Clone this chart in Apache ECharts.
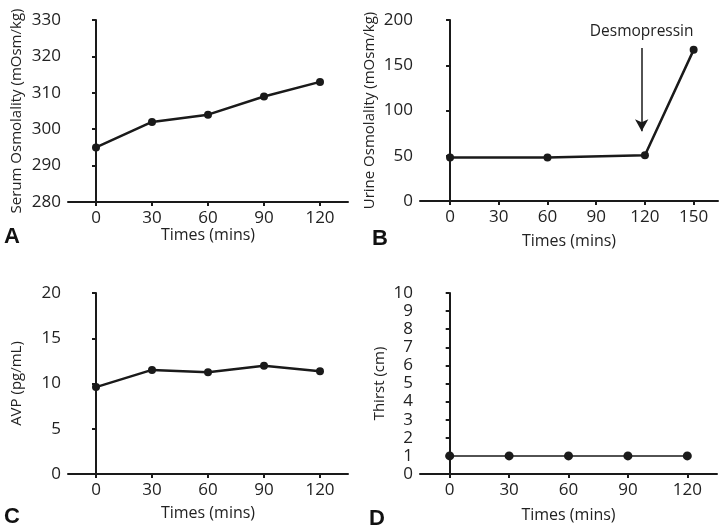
<!DOCTYPE html>
<html><head><meta charset="utf-8">
<script src="https://cdn.jsdelivr.net/npm/echarts@6/dist/echarts.min.js"></script>
<style>html,body{margin:0;padding:0;background:#fff}#c{width:721px;height:529px}</style>
</head><body><div id="c"></div>
<script>
// ---- data ----
const timesA = [0, 30, 60, 90, 120];
const serumOsm = [295, 302, 304, 309, 313];
const timesB = [0, 60, 120, 150];
const urineOsm = [48, 48, 50.5, 167];
const timesC = [0, 30, 60, 90, 120];
const avp = [9.6, 11.5, 11.25, 11.95, 11.35];
const timesD = [0, 30, 60, 90, 120];
const thirst = [1, 1, 1, 1, 1];
const xTicksA = [0, 30, 60, 90, 120];
const xTicksB = [0, 30, 60, 90, 120, 150];
const panelLetters = ['A', 'B', 'C', 'D'];
const xTitle = 'Times (mins)';
const yTitles = ['Serum Osmolality (mOsm/kg)', 'Urine Osmolality (mOsm/kg)', 'AVP (pg/mL)', 'Thirst (cm)'];
const annotation = { text: 'Desmopressin', x: 118, yFrom: 169, yTo: 77 };

// ---- style ----
const FONT = 'Open Sans';
const INK = '#1a1a1a';
const TXT = '#222';

const grids = [
  { left: 68, top: 20, width: 280, height: 182 },
  { left: 420, top: 20, width: 298, height: 181 },
  { left: 68, top: 293, width: 280, height: 181 },
  { left: 420, top: 293, width: 297, height: 181 }
];

function zip(xs, ys) { return xs.map((x, i) => [x, ys[i]]); }

function xAxis(i, min, max, ticks, nameGap) {
  return {
    type: 'value', gridIndex: i, min: min, max: max,
    name: xTitle, nameLocation: 'middle', nameGap: nameGap,
    nameTextStyle: { fontFamily: FONT, fontSize: 16, color: TXT },
    axisLine: { show: true, lineStyle: { color: INK, width: 2 } },
    axisTick: { show: true, length: 4, lineStyle: { color: INK, width: 2 }, customValues: ticks },
    axisLabel: { fontFamily: FONT, fontSize: 17, color: TXT, margin: 8, customValues: ticks },
    splitLine: { show: false }
  };
}
function yAxis(i, min, max, interval, name, nameGap, fs) {
  return {
    type: 'value', gridIndex: i, min: min, max: max, interval: interval,
    name: name, nameLocation: 'middle', nameGap: nameGap,
    nameTextStyle: { fontFamily: FONT, fontSize: 15, color: TXT },
    axisLine: { show: true, lineStyle: { color: INK, width: 2 } },
    axisTick: { show: true, length: 4, lineStyle: { color: INK, width: 2 } },
    axisLabel: { fontFamily: FONT, fontSize: fs, color: TXT, margin: 7 },
    splitLine: { show: false }
  };
}
function lineSeries(i, data, lw, ss) {
  return {
    type: 'line', xAxisIndex: i, yAxisIndex: i, data: data,
    symbol: 'circle', symbolSize: ss, showSymbol: true,
    lineStyle: { color: INK, width: lw }, itemStyle: { color: INK },
    animation: false, silent: true
  };
}

const seriesB = lineSeries(1, zip(timesB, urineOsm), 2.5, 8);
seriesB.markLine = {
  silent: true, animation: false,
  symbol: ['none', 'arrow'], symbolSize: [10, 12],
  lineStyle: { color: INK, width: 1.5, type: 'solid' },
  label: { show: true, position: 'start', formatter: annotation.text, fontFamily: FONT, fontSize: 15.5, color: TXT, distance: 8 },
  data: [[{ coord: [annotation.x, annotation.yFrom] }, { coord: [annotation.x, annotation.yTo] }]]
};

const letterPos = [[4, 226], [372, 228], [4, 506], [369, 508]];

const option = {
  backgroundColor: '#fff',
  animation: false,
  grid: grids,
  xAxis: [
    xAxis(0, -15, 135, xTicksA, 22),
    xAxis(1, -18.5, 165, xTicksB, 32),
    xAxis(2, -15, 135, xTicksA, 31),
    xAxis(3, -15, 135, xTicksA, 33)
  ],
  yAxis: [
    yAxis(0, 280, 330, 10, yTitles[0], 44, 17),
    yAxis(1, 0, 200, 50, yTitles[1], 43, 17),
    yAxis(2, 0, 20, 5, yTitles[2], 44, 17),
    yAxis(3, 0, 10, 1, yTitles[3], 33, 17)
  ],
  series: [
    lineSeries(0, zip(timesA, serumOsm), 2.5, 8),
    seriesB,
    lineSeries(2, zip(timesC, avp), 2.5, 8),
    lineSeries(3, zip(timesD, thirst), 1.5, 9)
  ],
  graphic: panelLetters.map((t, i) => ({
    type: 'text', left: letterPos[i][0], top: letterPos[i][1],
    style: { text: t, font: 'bold 22px "Liberation Sans"', fill: '#111' }
  }))
};

const chart = echarts.init(document.getElementById('c'), null, { renderer: 'canvas' });
chart.setOption(option);
</script>
</body></html>
